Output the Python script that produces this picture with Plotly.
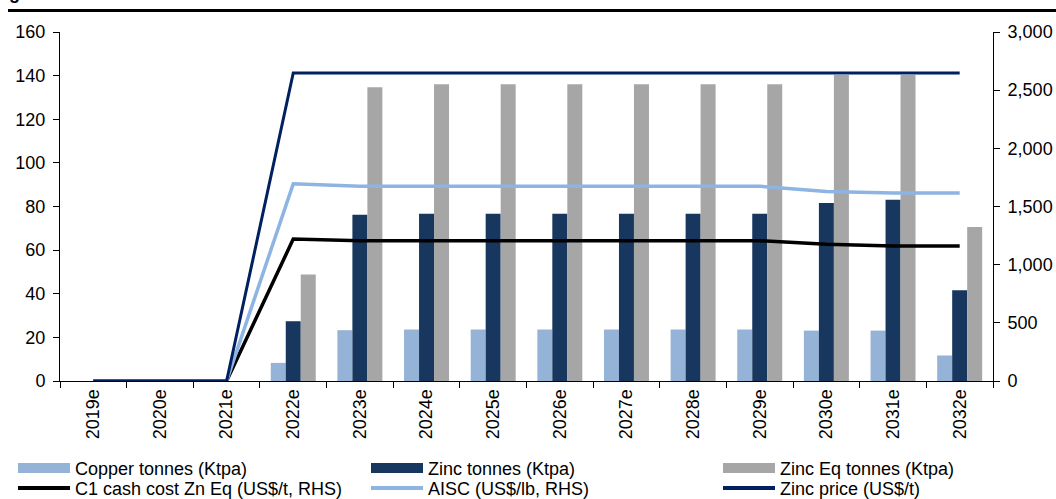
import plotly.graph_objects as go

years = ["2019e", "2020e", "2021e", "2022e", "2023e", "2024e", "2025e",
         "2026e", "2027e", "2028e", "2029e", "2030e", "2031e", "2032e"]
copper_kt = [0, 0, 0, 8.3, 23.3, 23.6, 23.6, 23.6, 23.6, 23.6, 23.6, 23.1, 23.1, 11.7]
zinc_kt = [0, 0, 0, 27.4, 76.2, 76.7, 76.7, 76.7, 76.7, 76.7, 76.7, 81.6, 83.1, 41.6]
zinc_eq_kt = [0, 0, 0, 48.8, 134.7, 136.1, 136.1, 136.1, 136.1, 136.1, 136.1, 140.3, 140.3, 70.6]
c1_cost = [0, 0, 0, 1220, 1206, 1206, 1206, 1206, 1206, 1206, 1206, 1175, 1160, 1160]
aisc = [0, 0, 0, 1695, 1674, 1674, 1674, 1674, 1674, 1674, 1674, 1629, 1615, 1615]
zinc_price = [0, 0, 0, 2648, 2648, 2648, 2648, 2648, 2648, 2648, 2648, 2648, 2648, 2648]

C_COPPER = "#95B3D7"
C_ZINC = "#17375E"
C_ZNEQ = "#A6A6A6"
C_C1 = "#000000"
C_AISC = "#8DB4E2"
C_PRICE = "#002060"

FONT = "Liberation Sans, Arial, sans-serif"

fig = go.Figure()

fig.add_trace(go.Bar(x=years, y=copper_kt, name="Copper tonnes (Ktpa)",
                     marker=dict(color=C_COPPER, line=dict(width=0)), showlegend=False))
fig.add_trace(go.Bar(x=years, y=zinc_kt, name="Zinc tonnes (Ktpa)",
                     marker=dict(color=C_ZINC, line=dict(width=0)), showlegend=False))
fig.add_trace(go.Bar(x=years, y=zinc_eq_kt, name="Zinc Eq tonnes (Ktpa)",
                     marker=dict(color=C_ZNEQ, line=dict(width=0)), showlegend=False))

fig.add_trace(go.Scatter(x=years, y=c1_cost, name="C1 cash cost Zn Eq (US$/t, RHS)",
                         mode="lines", line=dict(color=C_C1, width=3.5), yaxis="y2",
                         cliponaxis=False, showlegend=False))
fig.add_trace(go.Scatter(x=years, y=aisc, name="AISC (US$/lb, RHS)",
                         mode="lines", line=dict(color=C_AISC, width=3.5), yaxis="y2",
                         cliponaxis=False, showlegend=False))
fig.add_trace(go.Scatter(x=years, y=zinc_price, name="Zinc price (US$/t)",
                         mode="lines", line=dict(color=C_PRICE, width=3), yaxis="y2",
                         cliponaxis=False, showlegend=False))

# legend entries (one legend per entry for exact placement)
PLOT_L, PLOT_R, PLOT_T, PLOT_B = 60, 993, 32, 381.5
PW, PH = PLOT_R - PLOT_L, PLOT_B - PLOT_T

def px_x(p):
    return (p - PLOT_L) / PW

def px_y(p):
    return (PLOT_B - p) / PH

entries = [
    ("Copper tonnes (Ktpa)", C_COPPER, 10, 13, 469),
    ("Zinc tonnes (Ktpa)", C_ZINC, 10, 366, 469),
    ("Zinc Eq tonnes (Ktpa)", C_ZNEQ, 10, 718, 469),
    ("C1 cash cost Zn Eq (US$/t, RHS)", C_C1, 4, 13, 489),
    ("AISC (US$/lb, RHS)", C_AISC, 4, 366, 489),
    ("Zinc price (US$/t)", C_PRICE, 4, 718, 489),
]
legend_layouts = {}
for i, (name, col, w, lx, ly) in enumerate(entries):
    key = "legend" if i == 0 else f"legend{i+1}"
    fig.add_trace(go.Scatter(x=[None], y=[None], name=name, mode="lines",
                             line=dict(color=col, width=w), legend=key, showlegend=True))
    legend_layouts[key] = dict(x=px_x(lx), y=px_y(ly), xanchor="left", yanchor="middle",
                               bgcolor="rgba(0,0,0,0)", borderwidth=0, itemwidth=52,
                               font=dict(family=FONT, size=18, color="black"))

fig.update_layout(
    width=1056, height=499, autosize=False,
    margin=dict(l=PLOT_L, r=1056 - PLOT_R, t=PLOT_T, b=499 - PLOT_B, autoexpand=False),
    paper_bgcolor="white", plot_bgcolor="white",
    font=dict(family=FONT, size=18, color="black"),
    barmode="group", bargap=0.325, bargroupgap=0,
    xaxis=dict(type="category", showline=True, linecolor="black", linewidth=1,
               ticks="outside", tickson="boundaries", ticklen=6, tickcolor="black",
               tickangle=-90, showgrid=False, zeroline=False, automargin=False,
               tickfont=dict(family=FONT, size=18, color="black")),
    yaxis=dict(range=[0, 160], dtick=20, showline=True, linecolor="black", linewidth=1,
               ticks="outside", ticklen=6, tickcolor="black", showgrid=False, zeroline=False,
               automargin=False, ticklabelstandoff=4,
               tickfont=dict(family=FONT, size=18, color="black")),
    yaxis2=dict(range=[0, 3000], dtick=500, overlaying="y", side="right", showline=True,
                linecolor="black", linewidth=1, ticks="outside", ticklen=6, tickcolor="black",
                showgrid=False, zeroline=False, tickformat=",d", automargin=False,
                ticklabelstandoff=4,
                tickfont=dict(family=FONT, size=18, color="black")),
    shapes=[dict(type="line", xref="paper", yref="paper",
                 x0=px_x(8), x1=px_x(1056), y0=px_y(10.5), y1=px_y(10.5),
                 line=dict(color="black", width=3))],
    annotations=[dict(text="<b>Figure</b>", xref="paper", yref="paper",
                      x=px_x(-9), y=px_y(5), xanchor="left", yanchor="bottom",
                      showarrow=False, font=dict(family=FONT, size=18, color="black"))],
    **legend_layouts,
)

fig.write_html("out.html")
